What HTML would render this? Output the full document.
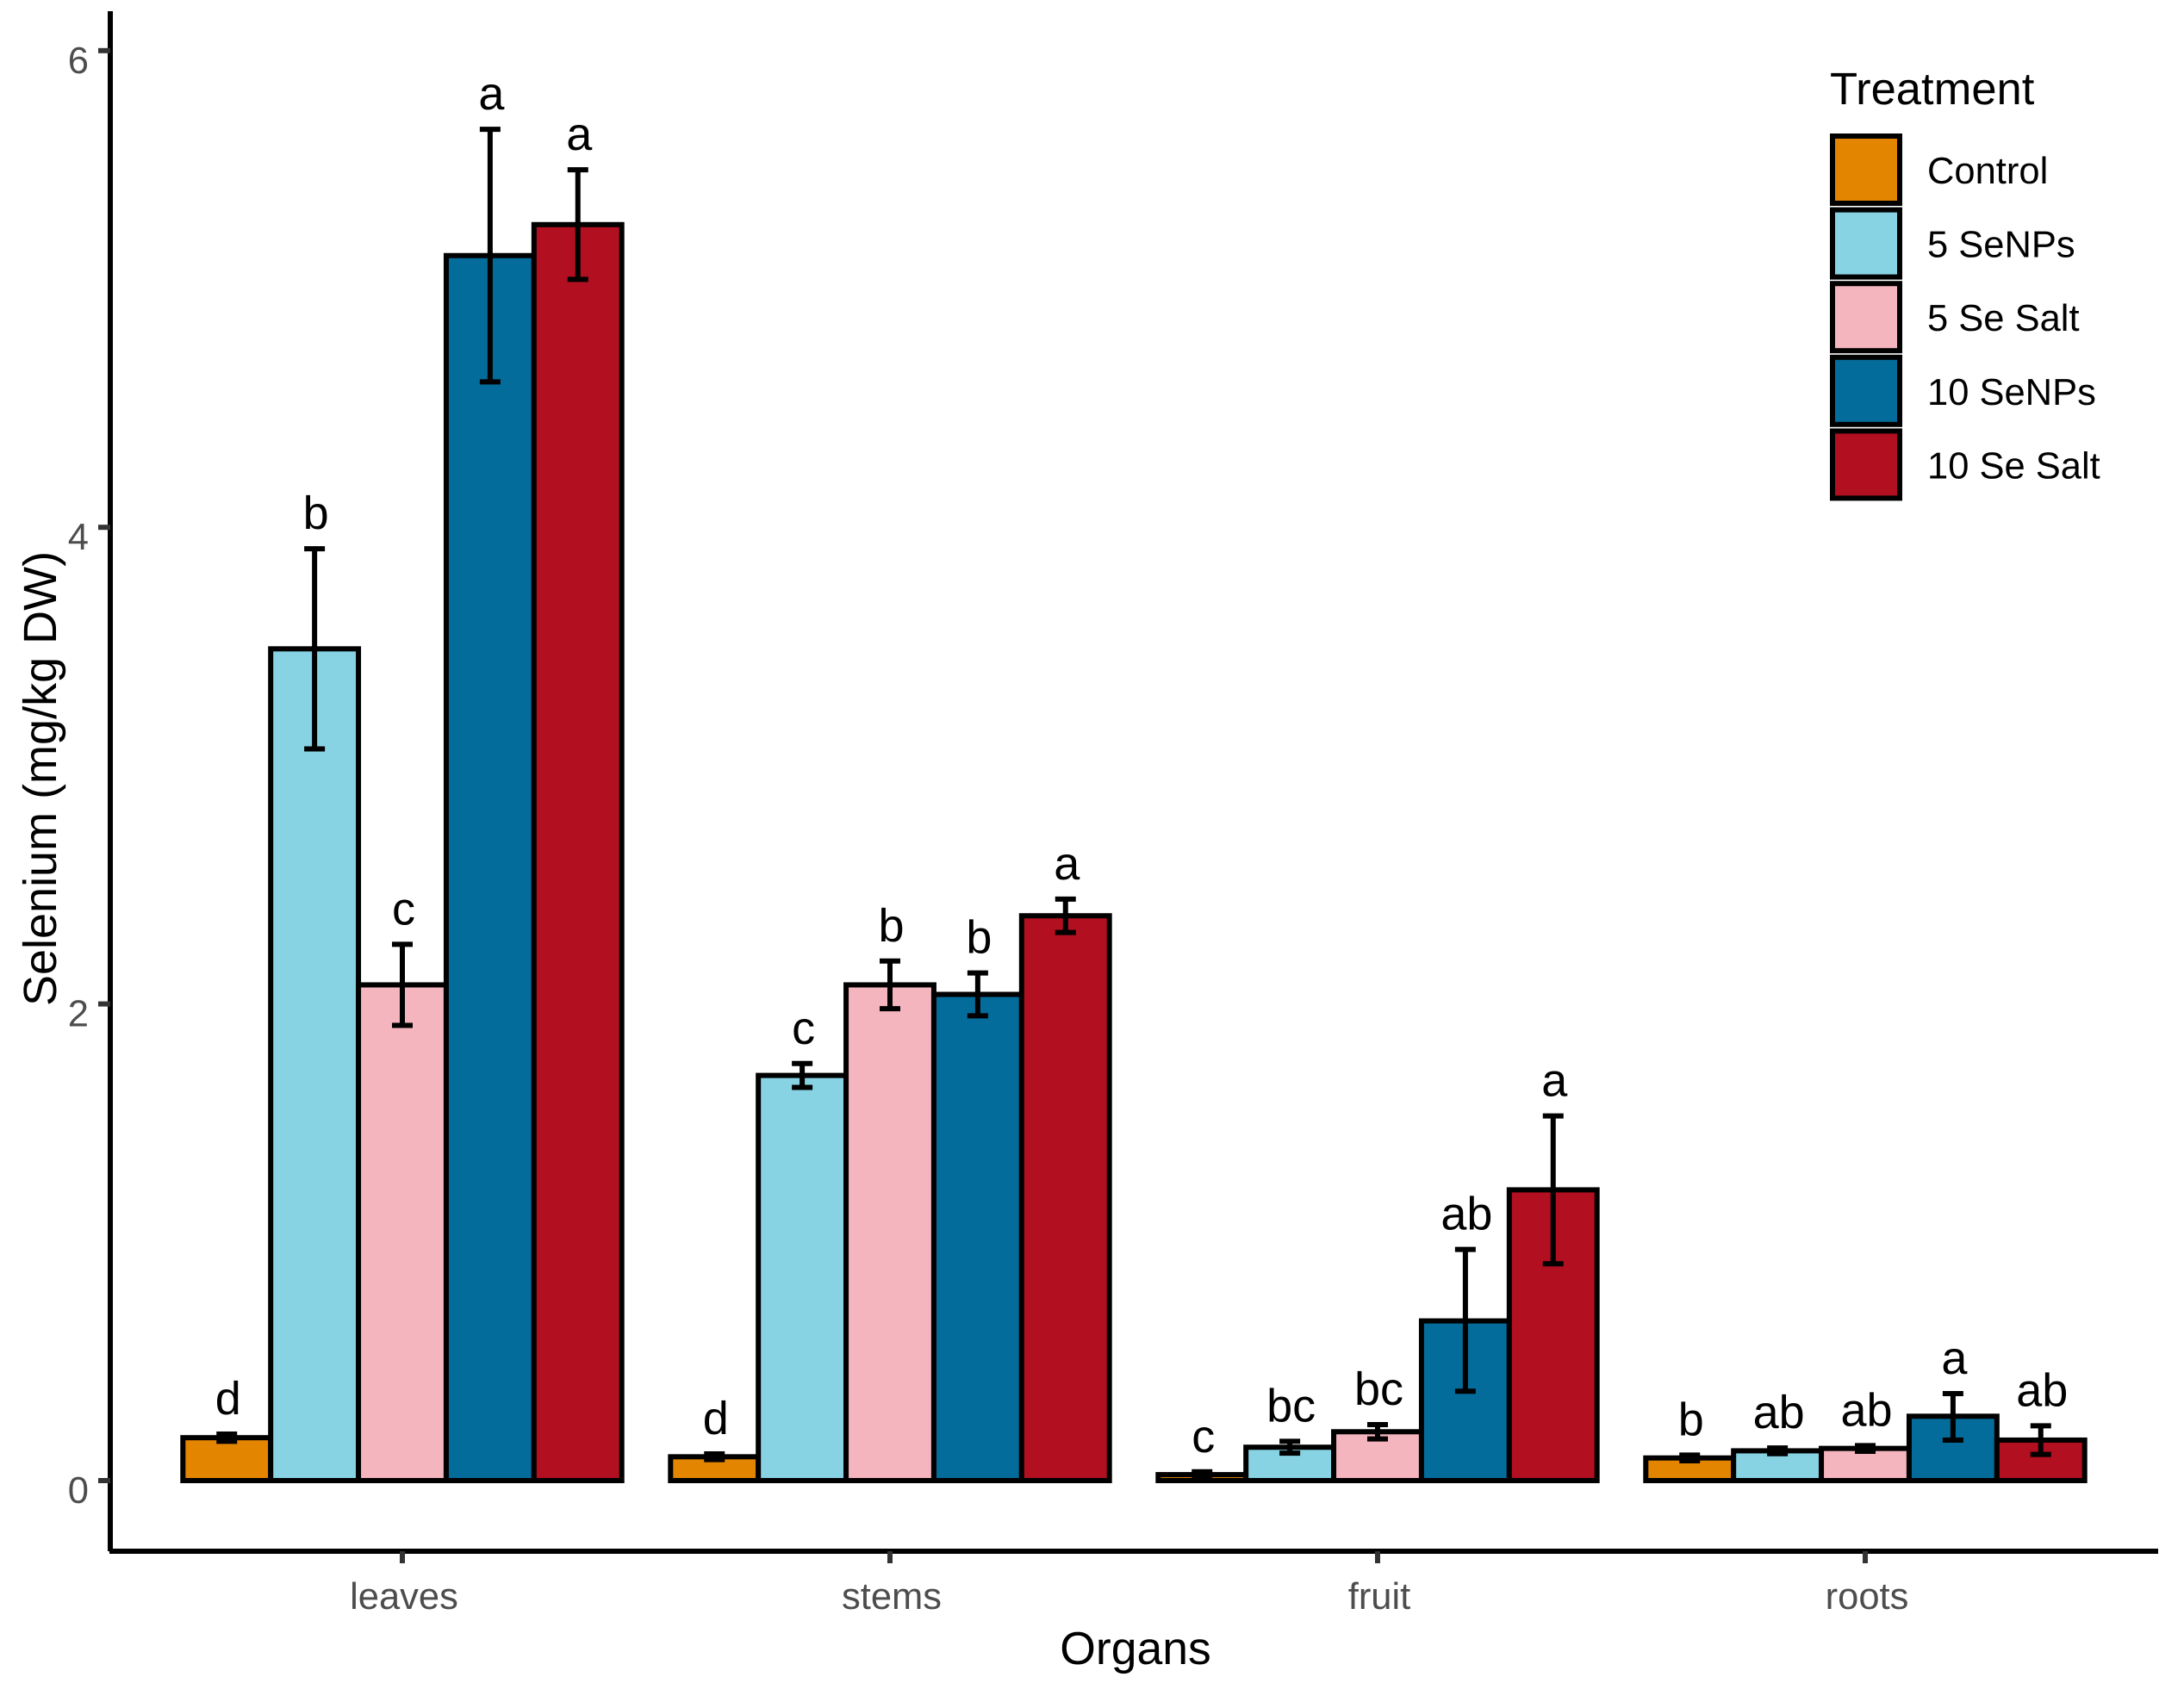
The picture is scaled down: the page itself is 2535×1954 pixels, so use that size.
<!DOCTYPE html>
<html lang="en">
<head>
<meta charset="utf-8">
<title>Selenium by organ and treatment</title>
<style>
html,body{margin:0;padding:0;background:#fff;}
svg{display:block;}
text{font-family:"Liberation Sans",Arial,sans-serif;text-rendering:geometricPrecision;}
</style>
</head>
<body>
<svg id="chart" xmlns="http://www.w3.org/2000/svg" width="2535" height="1954" viewBox="0 0 2535 1954">
  <rect x="0" y="0" width="2535" height="1954" fill="#ffffff"/>
  <g id="bars"></g>
  <g id="errors"></g>
  <g id="letters"></g>
  <g id="axes">
    <line x1="128" y1="13" x2="128" y2="1801" stroke="#000" stroke-width="6"/>
    <line x1="127" y1="1801" x2="2505" y2="1801" stroke="#000" stroke-width="6"/>
  </g>
  <text x="1318" y="1932" font-size="53.5" text-anchor="middle" fill="#000">Organs</text>
  <text transform="translate(65,904) rotate(-90)" font-size="54" text-anchor="middle" fill="#000">Selenium (mg/kg DW)</text>
  <g id="legend">
    <text x="2124" y="121" font-size="52.5" fill="#000">Treatment</text>
  </g>
</svg>
<script>
const categories = ["leaves", "stems", "fruit", "roots"];
const treatments = ["Control", "5 SeNPs", "5 Se Salt", "10 SeNPs", "10 Se Salt"];
const yTicks = [0, 2, 4, 6];

const meanControl = [0.18, 0.10, 0.025, 0.095];
const mean5SeNPs = [3.49, 1.70, 0.14, 0.125];
const mean5SeSalt = [2.08, 2.08, 0.205, 0.135];
const mean10SeNPs = [5.14, 2.04, 0.67, 0.27];
const mean10SeSalt = [5.27, 2.37, 1.22, 0.17];

const upperControl = [0.195, 0.112, 0.037, 0.107];
const upper5SeNPs = [3.91, 1.75, 0.165, 0.137];
const upper5SeSalt = [2.25, 2.18, 0.235, 0.147];
const upper10SeNPs = [5.67, 2.13, 0.97, 0.365];
const upper10SeSalt = [5.50, 2.44, 1.53, 0.23];

const lowerControl = [0.165, 0.088, 0.013, 0.083];
const lower5SeNPs = [3.07, 1.65, 0.115, 0.113];
const lower5SeSalt = [1.91, 1.98, 0.175, 0.123];
const lower10SeNPs = [4.61, 1.95, 0.375, 0.17];
const lower10SeSalt = [5.04, 2.30, 0.91, 0.11];

const lettersControl = ["d", "d", "c", "b"];
const letters5SeNPs = ["b", "c", "bc", "ab"];
const letters5SeSalt = ["c", "b", "bc", "ab"];
const letters10SeNPs = ["a", "b", "ab", "a"];
const letters10SeSalt = ["a", "a", "a", "ab"];

const fills = ["#E48500", "#87D3E4", "#F5B5BE", "#046C9A", "#B20F20"];

const means = [meanControl, mean5SeNPs, mean5SeSalt, mean10SeNPs, mean10SeSalt];
const uppers = [upperControl, upper5SeNPs, upper5SeSalt, upper10SeNPs, upper10SeSalt];
const lowers = [lowerControl, lower5SeNPs, lower5SeSalt, lower10SeNPs, lower10SeSalt];
const letterSets = [lettersControl, letters5SeNPs, letters5SeSalt, letters10SeNPs, letters10SeSalt];

const SVG_NS = "http://www.w3.org/2000/svg";
const yScale = function (v) { return 1719 - 276.7 * v; };
const xBand = function (i) { return 467 + 566 * i; };
const barWidth = 566 * 0.9 / treatments.length;
const xBar = function (c, s) { return xBand(c) - 566 * 0.45 + barWidth * s; };

function make(parent, tag, attrs, text) {
  const el = document.createElementNS(SVG_NS, tag);
  Object.keys(attrs).forEach(function (k) { el.setAttribute(k, attrs[k]); });
  if (text !== undefined) el.textContent = text;
  parent.appendChild(el);
  return el;
}

const barsLayer = document.getElementById("bars");
const errorsLayer = document.getElementById("errors");
const lettersLayer = document.getElementById("letters");
const axesLayer = document.getElementById("axes");
const legendLayer = document.getElementById("legend");

categories.forEach(function (cat, c) {
  treatments.forEach(function (tr, s) {
    const x = xBar(c, s);
    const top = yScale(means[s][c]);
    const bar = make(barsLayer, "rect", {
      x: x, y: top, width: barWidth, height: yScale(0) - top,
      fill: fills[s], stroke: "#000", "stroke-width": 6, "stroke-linejoin": "miter"
    });
    
    

    const cx = x + barWidth / 2;
    const hi = yScale(uppers[s][c]);
    const lo = yScale(lowers[s][c]);
    const err = make(errorsLayer, "path", {
      d: "M" + (cx - 12) + " " + hi + "H" + (cx + 12) + "M" + cx + " " + hi + "V" + lo + "M" + (cx - 12) + " " + lo + "H" + (cx + 12),
      fill: "none", stroke: "#000", "stroke-width": 6
    });
    
    

    const letter = make(lettersLayer, "text", {
      x: cx + 1.5, y: hi - 23, "font-size": 54, "text-anchor": "middle", fill: "#000"
    }, letterSets[s][c]);
    
    
  });

  const tick = make(axesLayer, "line", {
    x1: xBand(c), y1: 1801, x2: xBand(c), y2: 1815, stroke: "#333333", "stroke-width": 6
  });
  
  

  const label = make(axesLayer, "text", {
    x: xBand(c) + 2, y: 1868, "font-size": 43.5, "text-anchor": "middle", fill: "#4D4D4D"
  }, cat);
  
  
});

yTicks.forEach(function (t) {
  const tick = make(axesLayer, "line", {
    x1: 114, y1: yScale(t), x2: 128, y2: yScale(t), stroke: "#333333", "stroke-width": 6
  });
  
  

  const label = make(axesLayer, "text", {
    x: 103, y: yScale(t) + 26, "font-size": 43.5, "text-anchor": "end", fill: "#4D4D4D"
  }, String(t));
  
  
});

treatments.forEach(function (tr, s) {
  const keyTop = 155 + 85.6 * s;
  const key = make(legendLayer, "rect", {
    x: 2127, y: keyTop + 3, width: 78, height: 78,
    fill: fills[s], stroke: "#000", "stroke-width": 6
  });
  
  

  const label = make(legendLayer, "text", {
    x: 2237, y: keyTop + 58, "font-size": 43.5, fill: "#000"
  }, tr);
  
  
});
</script>
</body>
</html>
